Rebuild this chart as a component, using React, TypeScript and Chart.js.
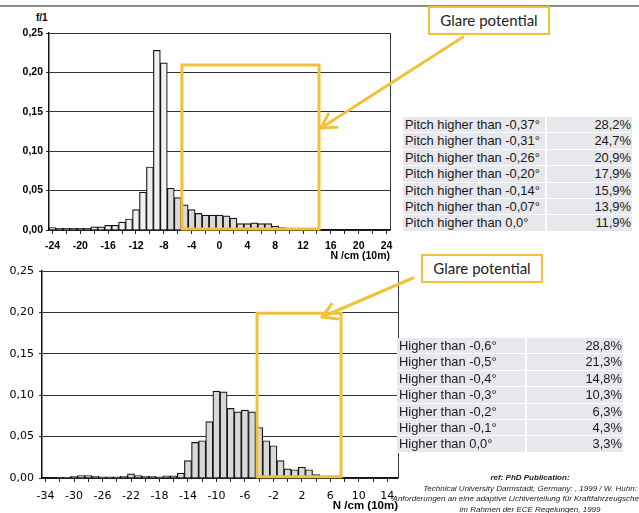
import React, { useEffect, useRef } from 'react';
import { Chart, registerables } from 'chart.js';
Chart.register(...registerables);

// ---------- data ----------
const topCategories = [-24, -23, -22, -21, -20, -19, -18, -17, -16, -15, -14, -13, -12, -11, -10, -9, -8, -7, -6, -5, -4, -3, -2, -1, 0, 1, 2, 3, 4, 5, 6, 7, 8, 9, 10, 11, 12, 13, 14, 15, 16, 17, 18, 19, 20, 21, 22, 23, 24];
const topValues = [0.003, 0.002, 0.002, 0.002, 0.002, 0.002, 0.004, 0.004, 0.006, 0.006, 0.010, 0.014, 0.026, 0.048, 0.080, 0.228, 0.212, 0.053, 0.041, 0.032, 0.026, 0.021, 0.019, 0.019, 0.019, 0.018, 0.015, 0.008, 0.008, 0.009, 0.008, 0.008, 0.005, 0.003, 0.002, 0.002, 0.002, 0.001, 0, 0, 0, 0, 0, 0, 0, 0, 0, 0, 0];

const bottomCategories = [-34, -33, -32, -31, -30, -29, -28, -27, -26, -25, -24, -23, -22, -21, -20, -19, -18, -17, -16, -15, -14, -13, -12, -11, -10, -9, -8, -7, -6, -5, -4, -3, -2, -1, 0, 1, 2, 3, 4, 5, 6, 7, 8, 9, 10, 11, 12, 13, 14, 15];
const bottomValues = [0, 0, 0.0005, 0.001, 0.002, 0.003, 0.003, 0.002, 0.0015, 0.0015, 0.0015, 0.002, 0.005, 0.003, 0.002, 0.002, 0.0015, 0.0025, 0.0025, 0.006, 0.021, 0.043, 0.045, 0.068, 0.105, 0.104, 0.084, 0.080, 0.082, 0.080, 0.061, 0.045, 0.039, 0.021, 0.011, 0.010, 0.013, 0.010, 0.004, 0.001, 0.0005, 0, 0, 0, 0, 0, 0, 0, 0, 0];

const yTicks = [0, 0.05, 0.1, 0.15, 0.2, 0.25];

// glare zones (data units): [xFrom, xTo, yFrom, yTo]
const topGlareZone = [-5.4, 14.3, 0.0013, 0.2094];
const bottomGlareZone = [-4.3, 7.5, 0.0015, 0.199];

const topTableLabels = ['Pitch higher than -0,37°', 'Pitch higher than -0,31°', 'Pitch higher than -0,26°', 'Pitch higher than -0,20°', 'Pitch higher than -0,14°', 'Pitch higher than -0,07°', 'Pitch higher than 0,0°'];
const topTableValues = ['28,2%', '24,7%', '20,9%', '17,9%', '15,9%', '13,9%', '11,9%'];
const bottomTableLabels = ['Higher than -0,6°', 'Higher than -0,5°', 'Higher than -0,4°', 'Higher than -0,3°', 'Higher than -0,2°', 'Higher than -0,1°', 'Higher than 0,0°'];
const bottomTableValues = ['28,8%', '21,3%', '14,8%', '10,3%', '6,3%', '4,3%', '3,3%'];

const YELLOW = '#F0C23C';
const SANS = '"Liberation Sans", Arial, sans-serif';

type HistProps = {
  cats: number[];
  vals: number[];
  colors: string[];
  zone: number[];
  width: number;
  height: number;
  left: number;
  top: number;
  yW: number;
  xH: number;
  padTop: number;
  padRight: number;
  tickFont: any;
  titleFont: any;
  xTickPad: number;
  yTickPad: number;
};

function HistChart(p: HistProps) {
  const ref = useRef<HTMLCanvasElement>(null);
  useEffect(() => {
    const start = p.cats[0];
    const framePlugin = {
      id: 'frame',
      afterDatasetsDraw(chart: any) {
        const { ctx, chartArea } = chart;
        const xs = chart.scales.x;
        const ys = chart.scales.y;
        ctx.save();
        // right border
        ctx.strokeStyle = '#333';
        ctx.lineWidth = 1;
        ctx.beginPath();
        ctx.moveTo(Math.round(chartArea.right) + 0.5, chartArea.top);
        ctx.lineTo(Math.round(chartArea.right) + 0.5, chartArea.bottom);
        ctx.stroke();
        // glare zone
        const x0 = xs.getPixelForValue(p.zone[0] - start);
        const x1 = xs.getPixelForValue(p.zone[1] - start);
        const y0 = ys.getPixelForValue(p.zone[2]);
        const y1 = ys.getPixelForValue(p.zone[3]);
        ctx.strokeStyle = YELLOW;
        ctx.lineWidth = 3;
        ctx.strokeRect(x0, y1, x1 - x0, y0 - y1);
        ctx.restore();
      },
    };
    const chart = new Chart(ref.current as HTMLCanvasElement, {
      type: 'bar',
      data: {
        labels: p.cats.map(String),
        datasets: [
          {
            data: p.vals,
            backgroundColor: p.colors,
            borderColor: '#151515',
            borderWidth: 1.2,
            barPercentage: 1,
            categoryPercentage: 1,
          },
        ],
      },
      options: {
        responsive: false,
        animation: false,
        devicePixelRatio: 1,
        layout: { padding: { top: p.padTop, right: p.padRight, left: 0, bottom: 0 } },
        plugins: { legend: { display: false }, tooltip: { enabled: false } },
        scales: {
          x: {
            offset: true,
            grid: {
              display: true,
              drawOnChartArea: false,
              offset: false,
              tickLength: 4,
              color: (c: any) => ((p.cats[c.index] - start) % 2 === 0 ? '#222' : 'rgba(0,0,0,0)'),
            },
            border: { display: true, color: '#111', width: 1.5 },
            ticks: {
              autoSkip: false,
              maxRotation: 0,
              minRotation: 0,
              padding: p.xTickPad,
              color: '#000',
              font: p.tickFont,
              callback: (_v: any, i: number) => ((p.cats[i] - start) % 4 === 0 ? String(p.cats[i]) : ''),
            },
            title: { display: true, text: 'N /cm (10m)', align: 'end', color: '#000', font: p.titleFont, padding: 0 },
            afterFit: (s: any) => {
              s.height = p.xH;
            },
          },
          y: {
            min: 0,
            max: 0.25,
            afterBuildTicks: (s: any) => {
              s.ticks = yTicks.map((v) => ({ value: v }));
            },
            ticks: {
              padding: p.yTickPad,
              color: '#000',
              font: p.tickFont,
              callback: (v: any) => Number(v).toFixed(2).replace('.', ','),
            },
            grid: { color: '#333', lineWidth: 1, tickLength: 3 },
            border: { display: true, color: '#111', width: 1.5 },
            afterFit: (s: any) => {
              s.width = p.yW;
            },
          },
        },
      },
      plugins: [framePlugin],
    } as any);
    return () => chart.destroy();
  }, []);
  return (
    <canvas
      ref={ref}
      width={p.width}
      height={p.height}
      style={{ position: 'absolute', left: p.left, top: p.top, width: p.width, height: p.height }}
    />
  );
}

function DataTable(props: { labels: string[]; values: string[]; left: number; top: number; width: number; split: number; rowH: number }) {
  return (
    <div style={{ position: 'absolute', left: props.left, top: props.top, width: props.width }}>
      {props.labels.map((l, i) => (
        <div
          key={i}
          style={{
            display: 'flex',
            height: props.rowH,
            borderBottom: '1px solid #fff',
            boxSizing: 'border-box',
            fontFamily: SANS,
            fontSize: 12.9,
            color: '#1a1a1a',
            lineHeight: props.rowH - 1 + 'px',
          }}
        >
          <div style={{ width: props.split, background: '#E6E8EC', borderRight: '2px solid #fff', paddingLeft: 2, boxSizing: 'border-box', whiteSpace: 'nowrap' }}>{l}</div>
          <div style={{ flex: 1, background: '#E6E8EC', textAlign: 'right', paddingRight: 1 }}>{props.values[i]}</div>
        </div>
      ))}
    </div>
  );
}

function Arrow(props: { x1: number; y1: number; x2: number; y2: number }) {
  const { x1, y1, x2, y2 } = props;
  const a = Math.atan2(y1 - y2, x1 - x2);
  const L = 16;
  const t = (30 * Math.PI) / 180;
  const w1 = [x2 + L * Math.cos(a + t), y2 + L * Math.sin(a + t)];
  const w2 = [x2 + L * Math.cos(a - t), y2 + L * Math.sin(a - t)];
  return (
    <g stroke={YELLOW} strokeWidth={3} fill="none" strokeLinecap="round" strokeLinejoin="round">
      <line x1={x1} y1={y1} x2={x2} y2={y2} />
      <polyline points={`${w1[0]},${w1[1]} ${x2},${y2} ${w2[0]},${w2[1]}`} />
    </g>
  );
}

function GlareLabel(props: { left: number; top: number }) {
  return (
    <div
      style={{
        position: 'absolute',
        left: props.left,
        top: props.top,
        width: 122,
        height: 29,
        border: `2px solid ${YELLOW}`,
        boxSizing: 'border-box',
        background: '#fff',
        fontFamily: 'Lato, "Open Sans", sans-serif',
        fontSize: 15,
        color: '#222',
        textAlign: 'center',
        lineHeight: '25px',
      }}
    >
      Glare potential
    </div>
  );
}

export default function App() {
  const topColors = topCategories.map((c) => (c <= -8 ? '#f1f1f1' : '#d9d9d9'));
  const bottomColors = bottomCategories.map(() => '#d8d8d8');
  return (
    <div style={{ position: 'absolute', left: 0, top: 0, width: 639, height: 513, overflow: 'hidden', background: '#fff', fontFamily: SANS }}>
      <div style={{ position: 'absolute', left: 0, top: 5, width: 639, height: 2, background: '#8c8c8c' }} />
      <div style={{ position: 'absolute', left: 36, top: 12, fontFamily: SANS, fontSize: 10, fontWeight: 'bold', color: '#000' }}>f/1</div>
      <HistChart
        cats={topCategories}
        vals={topValues}
        colors={topColors}
        zone={topGlareZone}
        width={400}
        height={262}
        left={0}
        top={0}
        yW={49}
        xH={32}
        padTop={33}
        padRight={10}
        tickFont={{ family: 'Liberation Sans', size: 10.5, weight: 'bold' }}
        titleFont={{ family: 'Liberation Sans', size: 10.5, weight: 'bold' }}
        xTickPad={6}
        yTickPad={3}
      />
      <HistChart
        cats={bottomCategories}
        vals={bottomValues}
        colors={bottomColors}
        zone={bottomGlareZone}
        width={405}
        height={263}
        left={0}
        top={250}
        yW={42}
        xH={35}
        padTop={21}
        padRight={7}
        tickFont={{ family: 'DejaVu Sans', size: 11 }}
        titleFont={{ family: 'Liberation Sans', size: 11.5, weight: 'bold' }}
        xTickPad={8}
        yTickPad={5}
      />
      <DataTable labels={topTableLabels} values={topTableValues} left={403} top={117} width={229} split={144} rowH={16.4} />
      <DataTable labels={bottomTableLabels} values={bottomTableValues} left={397} top={338} width={226} split={130} rowH={16.4} />
      <svg width={639} height={513} style={{ position: 'absolute', left: 0, top: 0, pointerEvents: 'none' }}>
        <Arrow x1={463} y1={37} x2={321} y2={128} />
        <Arrow x1={413} y1={278} x2={322} y2={317} />
      </svg>
      <GlareLabel left={428} top={6} />
      <GlareLabel left={421} top={254} />
      <div
        style={{
          position: 'absolute',
          left: 390,
          top: 473,
          width: 280,
          textAlign: 'center',
          fontFamily: SANS,
          fontSize: 8,
          fontStyle: 'italic',
          lineHeight: '10.5px',
          color: '#222',
          whiteSpace: 'nowrap',
        }}
      >
        <div style={{ fontWeight: 'bold' }}>ref: PhD Publication:</div>
        <div>Technical University Darmstadt, Germany: , 1999  / W. Huhn:</div>
        <div>Anforderungen an eine adaptive Lichtverteilung für Kraftfahrzeugscheinwerfer</div>
        <div>im Rahmen der ECE Regelungen, 1999</div>
      </div>
    </div>
  );
}
